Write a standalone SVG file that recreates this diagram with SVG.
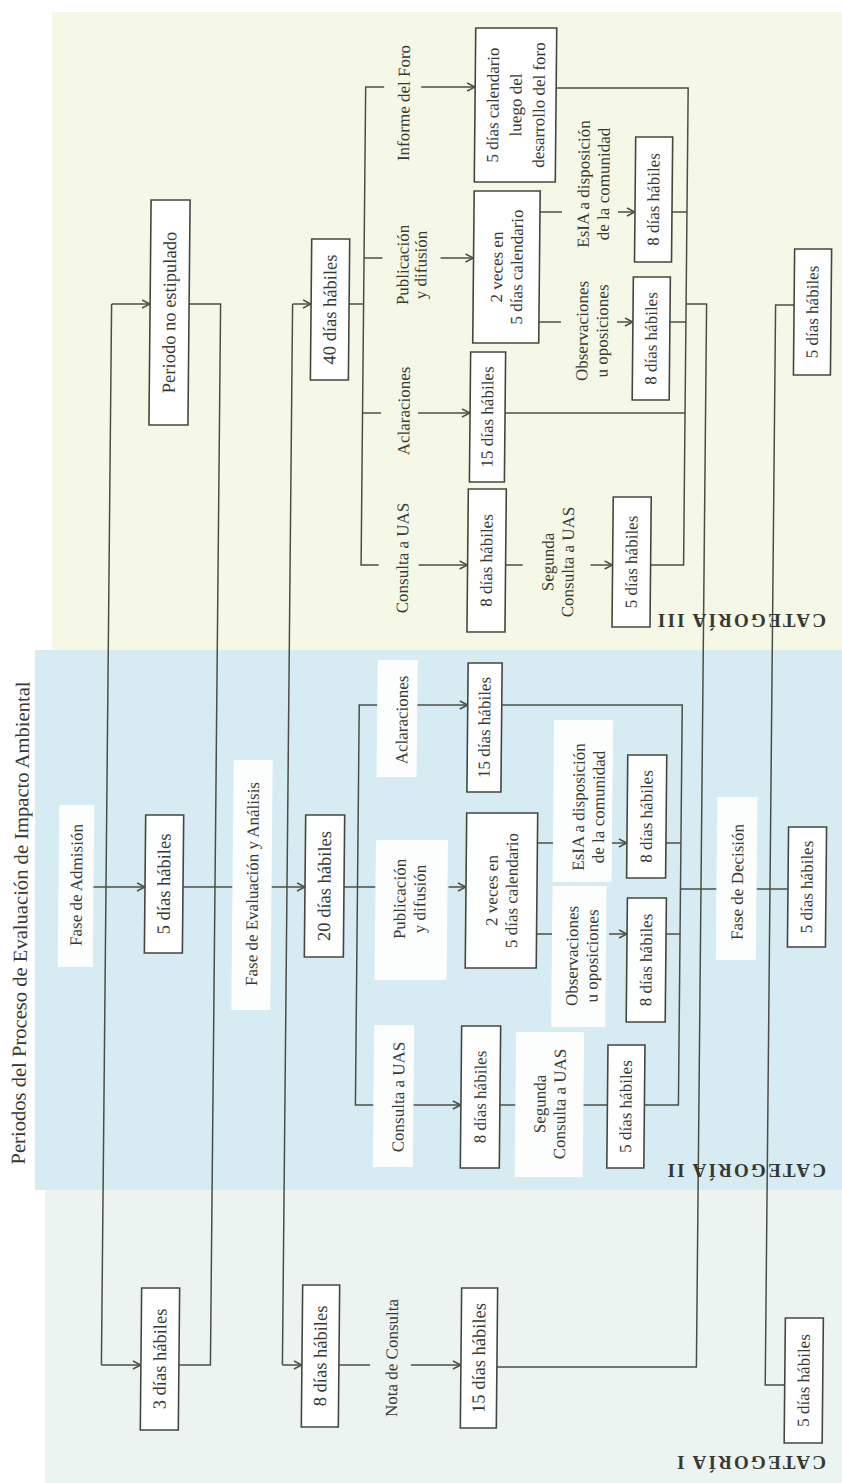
<svg xmlns="http://www.w3.org/2000/svg" width="842" height="1483" viewBox="0 0 842 1483">
<style>
.bx{fill:#ffffff;stroke:#43473f;stroke-width:1.6}
.ln{fill:none;stroke:#4a4f46;stroke-width:1.5}
.ar{fill:none;stroke:#4a4f46;stroke-width:1.5;marker-end:url(#ah)}
.t{font-family:"Liberation Serif","Times New Roman",serif;fill:#363932;text-anchor:middle;dominant-baseline:central;font-size:17px}
.big{font-size:18.5px}
.bg{fill:#ffffff;opacity:0.92}
.cat{font-family:"Liberation Serif","Times New Roman",serif;fill:#363932;font-weight:bold;font-size:19px;letter-spacing:2.2px;dominant-baseline:central}
</style>
<defs>
<marker id="ah" markerWidth="10" markerHeight="10" refX="9" refY="5" orient="auto" markerUnits="userSpaceOnUse">
<path d="M1,1 L9,5 L1,9" fill="none" stroke="#4a4f46" stroke-width="1.4"/>
</marker>
</defs>
<rect x="0" y="0" width="842" height="1483" fill="#ffffff"/>
<rect x="52" y="12" width="790" height="638" fill="#f6f8e7"/>
<rect x="35" y="650" width="807" height="540" fill="#d6ecf2"/>
<rect x="45" y="1190" width="797" height="293" fill="#ecf4f2"/>

<g id="diagram" transform="translate(421 835) skewX(-0.55) translate(-421 -835)">
<text id="title" class="t" style="font-size:20px" transform="translate(21 923) rotate(-90)" textLength="483" lengthAdjust="spacingAndGlyphs">Periodos del Proceso de Evaluación de Impacto Ambiental</text>

<g id="connectors">
<path class="ln" d="M106.5 304 V1365"/>
<path class="ar" d="M106.5 304 H145"/>
<path class="ar" d="M106.5 1365 H146"/>
<path class="ar" d="M92 887 H145.5"/>
<path class="ln" d="M184 304 H215.5 V1365 H184"/>
<path class="ln" d="M183.5 887 H233"/>
<path class="ln" d="M287.5 304 V1365"/>
<path class="ar" d="M287.5 304 H306"/>
<path class="ar" d="M272 887 H305.5"/>
<path class="ar" d="M287.5 1365 H307"/>
<path class="ln" d="M344 304 H358.5"/>
<path class="ln" d="M377 87 H358.5 V565 H376"/>
<path class="ln" d="M358.5 258 H377"/>
<path class="ln" d="M358.5 413 H377"/>
<path class="ar" d="M414 87 H468"/>
<path class="ar" d="M435 258 H468"/>
<path class="ar" d="M414 413 H466"/>
<path class="ar" d="M416 565 H465"/>
<path class="ln" d="M549 88 H681 V565 H648"/>
<path class="ln" d="M501 413 H681"/>
<path class="ln" d="M666 212 H681"/>
<path class="ln" d="M665 322 H681"/>
<path class="ln" d="M681 304 H701.5 V1367 H502"/>
<path class="ln" d="M503 565 H520"/>
<path class="ar" d="M588 565 H610"/>
<path class="ln" d="M534 212 H556"/>
<path class="ln" d="M534 322 H556"/>
<path class="ar" d="M612 212 H629"/>
<path class="ar" d="M612 322 H628"/>
<path class="ln" d="M789 305 H770.5 V1385 H790"/>
<path class="ln" d="M344.5 887 H358"/>
<path class="ln" d="M376 705 H358 V1105 H376"/>
<path class="ln" d="M358 887 H376"/>
<path class="ar" d="M416 705 H466.5"/>
<path class="ar" d="M449 887 H466.5"/>
<path class="ar" d="M416 1105 H463.5"/>
<path class="ln" d="M500.5 705 H681 V1105 H647"/>
<path class="ln" d="M666 843 H681"/>
<path class="ln" d="M667 934 H681"/>
<path class="ln" d="M681 889 H717"/>
<path class="ln" d="M757 889 H788.5"/>
<path class="ln" d="M537.5 843 H553"/>
<path class="ln" d="M537.5 934 H553"/>
<path class="ar" d="M612 843 H627"/>
<path class="ar" d="M610 934 H628"/>
<path class="ln" d="M502.5 1105 H518"/>
<path class="ln" d="M586 1105 H610"/>
<path class="ln" d="M344 1365 H375"/>
<path class="ar" d="M416 1365 H466"/>
</g>

<g id="lbl-informe"><text class="t" transform="translate(397 103) rotate(-90)">Informe del Foro</text></g>
<g id="lbl-pub3"><text class="t" transform="translate(406 265) rotate(-90)"><tspan x="0" y="-9">Publicación</tspan><tspan x="0" y="9">y difusión</tspan></text></g>
<g id="lbl-esia3"><text class="t" transform="translate(587 184) rotate(-90)"><tspan x="0" y="-10">EsIA a disposición</tspan><tspan x="0" y="10">de la comunidad</tspan></text></g>
<g id="lbl-obs3"><text class="t" transform="translate(587 331) rotate(-90)"><tspan x="0" y="-10">Observaciones</tspan><tspan x="0" y="10">u oposiciones</tspan></text></g>
<g id="lbl-acl3"><text class="t" transform="translate(400 411) rotate(-90)">Aclaraciones</text></g>
<g id="lbl-cons3"><text class="t" transform="translate(400 558) rotate(-90)">Consulta a UAS</text></g>
<g id="lbl-seg3"><text class="t" transform="translate(555 562) rotate(-90)"><tspan x="0" y="-10">Segunda</tspan><tspan x="0" y="10">Consulta a UAS</tspan></text></g>

<g id="lbl-admision"><rect class="bg" x="59" y="805" width="35" height="162"/><text class="t" transform="translate(77 885) rotate(-90)">Fase de Admisión</text></g>
<g id="lbl-evaluacion"><rect class="bg" x="233" y="760" width="39" height="250"/><text class="t" transform="translate(253 884) rotate(-90)">Fase de Evaluación y Análisis</text></g>
<g id="lbl-acl2"><rect class="bg" x="376" y="660" width="40" height="117"/><text class="t" transform="translate(401 720) rotate(-90)">Aclaraciones</text></g>
<g id="lbl-pub2"><rect class="bg" x="376" y="840" width="72" height="140"/><text class="t" transform="translate(410 899) rotate(-90)"><tspan x="0" y="-10">Publicación</tspan><tspan x="0" y="10">y difusión</tspan></text></g>
<g id="lbl-esia2"><rect class="bg" x="553" y="720" width="59" height="162"/><text class="t" transform="translate(588 807) rotate(-90)"><tspan x="0" y="-10">EsIA a disposición</tspan><tspan x="0" y="10">de la comunidad</tspan></text></g>
<g id="lbl-obs2"><rect class="bg" x="553" y="886" width="54" height="141"/><text class="t" transform="translate(583 956) rotate(-90)"><tspan x="0" y="-10">Observaciones</tspan><tspan x="0" y="10">u oposiciones</tspan></text></g>
<g id="lbl-decision"><rect class="bg" x="717" y="797" width="40" height="163"/><text class="t" transform="translate(738 882) rotate(-90)">Fase de Decisión</text></g>
<g id="lbl-cons2"><rect class="bg" x="376" y="1025" width="40" height="142"/><text class="t" transform="translate(401 1097) rotate(-90)">Consulta a UAS</text></g>
<g id="lbl-seg2"><rect class="bg" x="518" y="1032" width="68" height="145"/><text class="t" transform="translate(552 1104) rotate(-90)"><tspan x="0" y="-10">Segunda</tspan><tspan x="0" y="10">Consulta a UAS</tspan></text></g>

<g id="lbl-nota"><text class="t" transform="translate(397 1358) rotate(-90)">Nota de Consulta</text></g>

<g id="n-periodo"><rect class="bx" x="145" y="200" width="39" height="225"/><text class="t big" transform="translate(164.5 312.5) rotate(-90)">Periodo no estipulado</text></g>
<g id="n-40"><rect class="bx" x="306" y="239" width="38" height="141"/><text class="t big" transform="translate(325 309.5) rotate(-90)">40 días hábiles</text></g>
<g id="n-informe"><rect class="bx" x="468" y="28" width="81" height="154"/><text class="t" transform="translate(508.5 105) rotate(-90)"><tspan x="0" y="-23">5 días calendario</tspan><tspan x="0" y="0">luego del</tspan><tspan x="0" y="23">desarrollo del foro</tspan></text></g>
<g id="n-2veces3"><rect class="bx" x="468" y="191" width="66" height="152"/><text class="t" transform="translate(501 267) rotate(-90)"><tspan x="0" y="-10">2 veces en</tspan><tspan x="0" y="10">5 días calendario</tspan></text></g>
<g id="n-8esia3"><rect class="bx" x="629" y="137" width="37" height="125"/><text class="t" transform="translate(647.5 199.5) rotate(-90)">8 días hábiles</text></g>
<g id="n-8obs3"><rect class="bx" x="628" y="277" width="37" height="123"/><text class="t" transform="translate(646.5 338.5) rotate(-90)">8 días hábiles</text></g>
<g id="n-15acl3"><rect class="bx" x="466" y="352" width="35" height="130"/><text class="t" transform="translate(483.5 417) rotate(-90)">15 días hábiles</text></g>
<g id="n-8cons3"><rect class="bx" x="465" y="489" width="38" height="143"/><text class="t" transform="translate(484 560.5) rotate(-90)">8 días hábiles</text></g>
<g id="n-5seg3"><rect class="bx" x="610" y="497" width="38" height="130"/><text class="t" transform="translate(629 562) rotate(-90)">5 días hábiles</text></g>
<g id="n-5dec3"><rect class="bx" x="789" y="249" width="37" height="126"/><text class="t" transform="translate(807.5 312) rotate(-90)">5 días hábiles</text></g>

<g id="n-5adm2"><rect class="bx" x="145.5" y="815" width="38" height="138"/><text class="t big" transform="translate(164.5 884) rotate(-90)">5 días hábiles</text></g>
<g id="n-20"><rect class="bx" x="305.5" y="815" width="39" height="142"/><text class="t big" transform="translate(325 886) rotate(-90)">20 días hábiles</text></g>
<g id="n-15acl2"><rect class="bx" x="466.5" y="663" width="34" height="129"/><text class="t" transform="translate(483.5 727.5) rotate(-90)">15 días hábiles</text></g>
<g id="n-2veces2"><rect class="bx" x="466.5" y="813" width="71" height="155"/><text class="t" transform="translate(502 890.5) rotate(-90)"><tspan x="0" y="-10">2 veces en</tspan><tspan x="0" y="10">5 días calendario</tspan></text></g>
<g id="n-8esia2"><rect class="bx" x="627" y="755" width="39" height="123"/><text class="t" transform="translate(646.5 816.5) rotate(-90)">8 días hábiles</text></g>
<g id="n-8obs2"><rect class="bx" x="628" y="898" width="39" height="124"/><text class="t" transform="translate(647.5 960) rotate(-90)">8 días hábiles</text></g>
<g id="n-8cons2"><rect class="bx" x="463.5" y="1026" width="39" height="142"/><text class="t" transform="translate(483 1097) rotate(-90)">8 días hábiles</text></g>
<g id="n-5seg2"><rect class="bx" x="610" y="1045" width="37" height="123"/><text class="t" transform="translate(628.5 1106.5) rotate(-90)">5 días hábiles</text></g>
<g id="n-5dec2"><rect class="bx" x="788.5" y="827" width="38" height="120"/><text class="t" transform="translate(807.5 887) rotate(-90)">5 días hábiles</text></g>

<g id="n-3"><rect class="bx" x="146" y="1288" width="38" height="142"/><text class="t big" transform="translate(165 1359) rotate(-90)">3 días hábiles</text></g>
<g id="n-8nota1"><rect class="bx" x="307" y="1285" width="37" height="142"/><text class="t big" transform="translate(325.5 1356) rotate(-90)">8 días hábiles</text></g>
<g id="n-15-1"><rect class="bx" x="466" y="1288" width="36" height="140"/><text class="t big" transform="translate(484 1358) rotate(-90)">15 días hábiles</text></g>
<g id="n-5dec1"><rect class="bx" x="790" y="1318" width="38" height="125"/><text class="t" transform="translate(809 1380.5) rotate(-90)">5 días hábiles</text></g>
</g>

<g id="categories">
<text class="cat" transform="translate(826 620) rotate(180)">CATEGORÍA III</text>
<text class="cat" transform="translate(826 1170) rotate(180)">CATEGORÍA II</text>
<text class="cat" transform="translate(826 1462) rotate(180)">CATEGORÍA I</text>
</g>
</svg>
